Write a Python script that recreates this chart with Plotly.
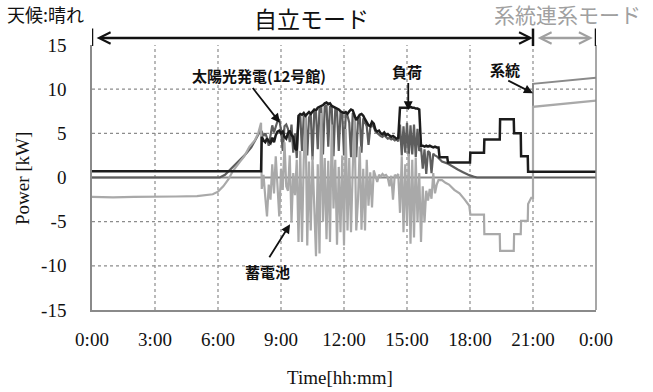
import plotly.graph_objects as go


def hm(s):
    h, m = s.split(":")
    return int(h) + int(m) / 60.0


# ---------------- axis ticks ----------------
x_tickvals = [0, 3, 6, 9, 12, 15, 18, 21, 24]
x_ticktext = ["0:00", "3:00", "6:00", "9:00", "12:00", "15:00", "18:00", "21:00", "0:00"]
y_tickvals = [-15, -10, -5, 0, 5, 10, 15]
y_ticktext = ["-15", "-10", "-5", "0", "5", "10", "15"]

# daytime sample times (every 5 min, 8:05 .. 16:30)
day_times = [f"{8 + (5 + 5 * i) // 60}:{(5 + 5 * i) % 60:02d}" for i in range(102)]

# ---------------- 負荷 (load) ----------------
load_am_t = ["0:00", "4:00", "8:03"]
load_am_v = [0.7, 0.7, 0.7]
load_day_v = [
    4.6, 4.2, 4.0, 4.4, 4.1, 3.9, 4.5, 4.0, 4.8, 5.2, 5.3,
    5.0, 5.2, 4.6, 4.4, 5.0, 5.3, 4.8, 4.6, 3.3, 3.1, 7.0, 7.2,
    7.1, 7.3, 7.0, 7.2, 7.4, 7.2, 7.5, 7.7, 7.6, 7.9, 8.0, 8.1,
    8.2, 8.4, 8.5, 8.3, 8.4, 8.1, 8.0, 7.9, 7.8, 7.7, 7.5, 7.4,
    7.3, 7.4, 7.2, 7.5, 7.7, 7.6, 7.0, 6.5, 6.8, 7.1, 7.2, 7.0,
    6.6, 6.2, 5.9, 5.8, 6.3, 6.1, 5.4, 5.2, 5.3, 5.0, 4.9, 5.1,
    4.8, 4.9, 4.7, 4.6, 4.7, 4.5, 4.4, 4.5, 7.9, 7.9, 7.9, 7.9,
    7.9, 7.9, 8.0, 7.9, 7.9, 7.8, 7.8, 7.7, 3.6, 3.6, 3.5, 3.6,
    3.5, 3.6, 3.5, 3.4, 3.5, 3.4, 3.4,
]
load_pm_t = ["16:33", "16:55", "16:57", "18:00", "18:01", "18:40", "18:41", "19:25",
             "19:26", "20:05", "20:06", "20:25", "20:26", "20:45", "20:46", "24:00"]
load_pm_v = [2.3, 2.3, 1.7, 1.7, 2.8, 2.8, 4.3, 4.3, 6.6, 6.6, 5.0, 5.0, 2.4, 2.4, 0.65, 0.65]

# ---------------- 太陽光発電 (PV) ----------------
pv_am_t = ["0:00", "6:05", "6:20", "6:35", "6:50", "7:05", "7:20", "7:35", "7:50", "8:00"]
pv_am_v = [0.0, 0.0, 0.3, 0.9, 1.4, 2.0, 2.7, 3.4, 4.5, 5.2]
pv_day_v = [
    5.2, 4.7, 5.0, 4.5, 3.6, 4.8, 5.9, 5.1, 5.8, 6.4, 6.6,
    5.4, 3.0, 5.8, 6.0, 5.5, 4.0, 6.0, 2.8, 5.0, 2.2, 6.8, 7.0,
    3.0, 6.9, 7.1, 2.5, 6.8, 7.2, 2.0, 7.4, 7.3, 3.2, 7.7, 7.8,
    2.6, 8.0, 8.2, 3.5, 8.1, 7.9, 2.4, 7.7, 7.6, 3.0, 7.3, 7.2,
    2.5, 7.1, 7.0, 6.2, 2.3, 7.3, 6.6, 2.3, 6.5, 6.9, 2.8, 6.7,
    6.3, 5.8, 3.7, 5.6, 6.0, 5.7, 5.2, 5.0, 4.9, 4.7, 4.6, 4.8,
    4.6, 4.4, 4.5, 4.3, 4.4, 4.2, 4.3, 4.1, 6.0, 2.5, 5.8, 2.8,
    6.2, 2.4, 5.9, 2.6, 6.0, 2.3, 5.5, 3.0, 3.4, 1.0, 3.2, 0.4,
    3.0, 2.8, 0.5, 2.7, 2.5, 2.4, 2.2,
]
pv_pm_t = ["16:40", "16:55", "17:10", "17:25", "17:40", "17:55", "18:10", "18:20", "24:00"]
pv_pm_v = [1.8, 1.6, 1.2, 0.9, 0.6, 0.3, 0.1, 0.0, 0.0]

# ---------------- 蓄電池 (battery) ----------------
bat_am_t = ["0:00", "1:00", "2:00", "3:00", "4:00", "5:00", "5:30", "5:45", "6:00",
            "6:15", "6:30", "6:42", "7:03", "7:15", "7:30", "7:45", "7:55", "8:03"]
bat_am_v = [-2.2, -2.25, -2.2, -2.2, -2.15, -2.1, -2.0, -1.9, -1.6,
            -1.0, -0.2, 0.7, 1.8, 2.4, 3.5, 4.2, 5.0, 6.2]
bat_day_v = [
    -1.3, 0.3, -2.2, -4.4, -0.8, -2.5, 1.5, -1.8, 2.4, -0.5, -4.4,
    1.0, -1.4, 4.0, -1.0, -1.5, 2.5, -5.1, 0.5, -2.0, 2.0, -7.3, 3.0,
    -7.3, 2.0, 6.9, -7.7, 1.8, -6.0, 2.4, -4.5, -8.9, 1.5, -8.6, 7.3,
    -5.0, 2.2, -7.0, 1.9, -7.3, 6.0, -3.5, 2.0, -7.6, 1.2, -6.2, 2.5,
    -7.7, 5.5, -6.0, 2.2, -6.2, 1.0, 6.8, -6.0, -2.5, 3.5, -5.9, 1.0,
    -6.0, 2.0, -3.2, 0.6, -3.4, 0.8, 0.2, -0.5, 0.3, 0.1, 0.4, 0.2,
    0.3, 0.0, -1.0, 0.2, -2.5, 0.3, 0.1, 0.4, -4.0, 2.4, -6.2, 1.5,
    -5.5, 2.7, -7.5, 2.0, -6.8, 2.2, -5.0, 0.5, -7.3, -1.0, -5.1, -1.5,
    -2.6, -1.3, -2.4, 0.5, -1.8, -0.8, -0.3,
]
bat_pm_t = ["16:40", "16:50", "17:00", "17:15", "17:30", "17:45", "17:58", "18:01",
            "18:40", "18:41", "19:25", "19:26", "20:05", "20:06", "20:25", "20:26",
            "20:45", "20:46", "20:55", "21:00", "21:00", "24:00"]
bat_pm_v = [-0.3, -0.6, -0.8, -1.4, -1.8, -2.5, -3.2, -4.2,
            -4.2, -6.4, -6.4, -8.3, -8.3, -6.4, -6.4, -4.9,
            -4.9, -3.0, -2.3, -2.3, 8.0, 8.7]

# ---------------- 系統 (grid) ----------------
grid_t = ["0:00", "21:00", "21:00", "24:00"]
grid_v = [0.0, 0.0, 10.6, 11.3]


def series(t_am, v_am, v_day, t_pm, v_pm):
    xs = [hm(t) for t in t_am] + [hm(t) for t in day_times] + [hm(t) for t in t_pm]
    ys = list(v_am) + list(v_day) + list(v_pm)
    return xs, ys


fig = go.Figure()

gx = [hm(t) for t in grid_t]
fig.add_trace(go.Scatter(x=gx, y=grid_v, mode="lines", line=dict(color="#8a8a8a", width=2), name="系統"))

px_, py_ = series(pv_am_t, pv_am_v, pv_day_v, pv_pm_t, pv_pm_v)
fig.add_trace(go.Scatter(x=px_, y=py_, mode="lines", line=dict(color="#5e5e5e", width=2.2), name="太陽光発電"))

bx, by = series(bat_am_t, bat_am_v, bat_day_v, bat_pm_t, bat_pm_v)
fig.add_trace(go.Scatter(x=bx, y=by, mode="lines", line=dict(color="#a9a9a9", width=2.2), name="蓄電池"))

lx, ly = series(load_am_t, load_am_v, load_day_v, load_pm_t, load_pm_v)
fig.add_trace(go.Scatter(x=lx, y=ly, mode="lines", line=dict(color="#1c1c1c", width=2.5), name="負荷"))

serif = "Liberation Serif"
jp = "Noto Sans CJK JP"

fig.update_layout(
    width=653, height=392,
    margin=dict(l=92, r=57, t=45, b=82, autoexpand=False),
    paper_bgcolor="white", plot_bgcolor="white",
    showlegend=False,
)
fig.update_xaxes(
    range=[0, 24], tickvals=x_tickvals, ticktext=x_ticktext,
    showgrid=False, zeroline=False, automargin=False,
    showline=True, linecolor="#8a8a8a", linewidth=1.5,
    ticks="outside", ticklen=11, tickcolor="rgba(0,0,0,0)",
    tickfont=dict(family=serif, size=19, color="#111111"),
)
fig.update_yaxes(
    range=[-15, 15], tickvals=y_tickvals, ticktext=y_ticktext,
    showgrid=False, zeroline=False, automargin=False,
    showline=True, linecolor="#8a8a8a", linewidth=1.5,
    ticks="outside", ticklen=20, tickcolor="rgba(0,0,0,0)",
    tickfont=dict(family=serif, size=19, color="#111111"),
)

shapes = []
for yv in [-10, -5, 5, 10]:
    shapes.append(dict(type="line", xref="paper", yref="y", x0=0, x1=1, y0=yv, y1=yv,
                       line=dict(color="#8c8c8c", width=1.2, dash="dot"), layer="below"))
for xv in [3, 6, 9, 12, 15, 18, 21]:
    shapes.append(dict(type="line", xref="x", yref="paper", x0=xv, x1=xv, y0=0, y1=1,
                       line=dict(color="#8c8c8c", width=1.2, dash="dot"), layer="below"))
# right border
shapes.append(dict(type="line", xref="paper", yref="paper", x0=1, x1=1, y0=0, y1=1,
                   line=dict(color="#8a8a8a", width=1.5)))
# mode bars above plot
for xv in [0, 21, 24]:
    shapes.append(dict(type="line", xref="x", yref="paper", x0=xv, x1=xv, y0=0.996, y1=1.062,
                       line=dict(color="#111111", width=2.5)))
fig.update_layout(shapes=shapes)

ann = []
arrow_y = 1.0264
ann.append(dict(x=21, y=arrow_y, xref="x", yref="paper", ax=0.15, ay=0, axref="x", ayref="pixel",
                text="", showarrow=True, arrowhead=5, startarrowhead=5, arrowside="end+start",
                arrowsize=0.9, arrowwidth=2.5, arrowcolor="#111111"))
ann.append(dict(x=23.85, y=arrow_y, xref="x", yref="paper", ax=21.15, ay=0, axref="x", ayref="pixel",
                text="", showarrow=True, arrowhead=5, startarrowhead=5, arrowside="end+start",
                arrowsize=0.9, arrowwidth=2.5, arrowcolor="#a0a0a0"))
ann.append(dict(x=-0.1726, y=1.117, xref="paper", yref="paper", xanchor="left", yanchor="middle",
                text="天候:晴れ", showarrow=False, font=dict(family=jp, size=18, color="#111111")))
ann.append(dict(x=0.4365, y=1.10, xref="paper", yref="paper", xanchor="center", yanchor="middle",
                text="自立モード", showarrow=False, font=dict(family=jp, size=23, color="#111111")))
ann.append(dict(x=0.9425, y=1.117, xref="paper", yref="paper", xanchor="center", yanchor="middle",
                text="系統連系モード", showarrow=False, font=dict(family=jp, size=21, color="#a0a0a0")))
ann.append(dict(x=0.492, y=-0.2566, xref="paper", yref="paper", xanchor="center", yanchor="middle",
                text="Time[hh:mm]", showarrow=False, font=dict(family=serif, size=19, color="#111111")))
ann.append(dict(x=-0.1389, y=0.498, xref="paper", yref="paper", xanchor="center", yanchor="middle",
                text="Power [kW]", textangle=-90, showarrow=False, font=dict(family=serif, size=19, color="#111111")))

# series labels
lab_font = dict(family=jp, size=15, color="#111111")
ann.append(dict(x=7.95, y=11.6, xref="x", yref="y", text="<b>太陽光発電(12号館)</b>", showarrow=False, font=lab_font))
ann.append(dict(x=8.38, y=-10.6, xref="x", yref="y", text="<b>蓄電池</b>", showarrow=False, font=lab_font))
ann.append(dict(x=14.98, y=12.0, xref="x", yref="y", text="<b>負荷</b>", showarrow=False, font=lab_font))
ann.append(dict(x=19.67, y=12.2, xref="x", yref="y", text="<b>系統</b>", showarrow=False, font=lab_font))

for (hx, hy, tx, ty) in [(8.95, 6.2, 7.6, 10.3), (9.43, -5.3, 8.4, -9.2),
                         (15.06, 7.6, 15.06, 10.86), (21.0, 9.55, 19.75, 11.05)]:
    ann.append(dict(x=hx, y=hy, xref="x", yref="y", ax=tx, ay=ty, axref="x", ayref="y",
                    text="", showarrow=True, arrowhead=2, arrowsize=1.0, arrowwidth=1.8,
                    arrowcolor="#111111"))
fig.update_layout(annotations=ann)

# remove the browser's default 8px body margin so the figure fills the window
fig.write_html("out.html", config={"displayModeBar": False},
               post_script="document.body.style.margin='0';document.body.style.overflow='hidden';")
